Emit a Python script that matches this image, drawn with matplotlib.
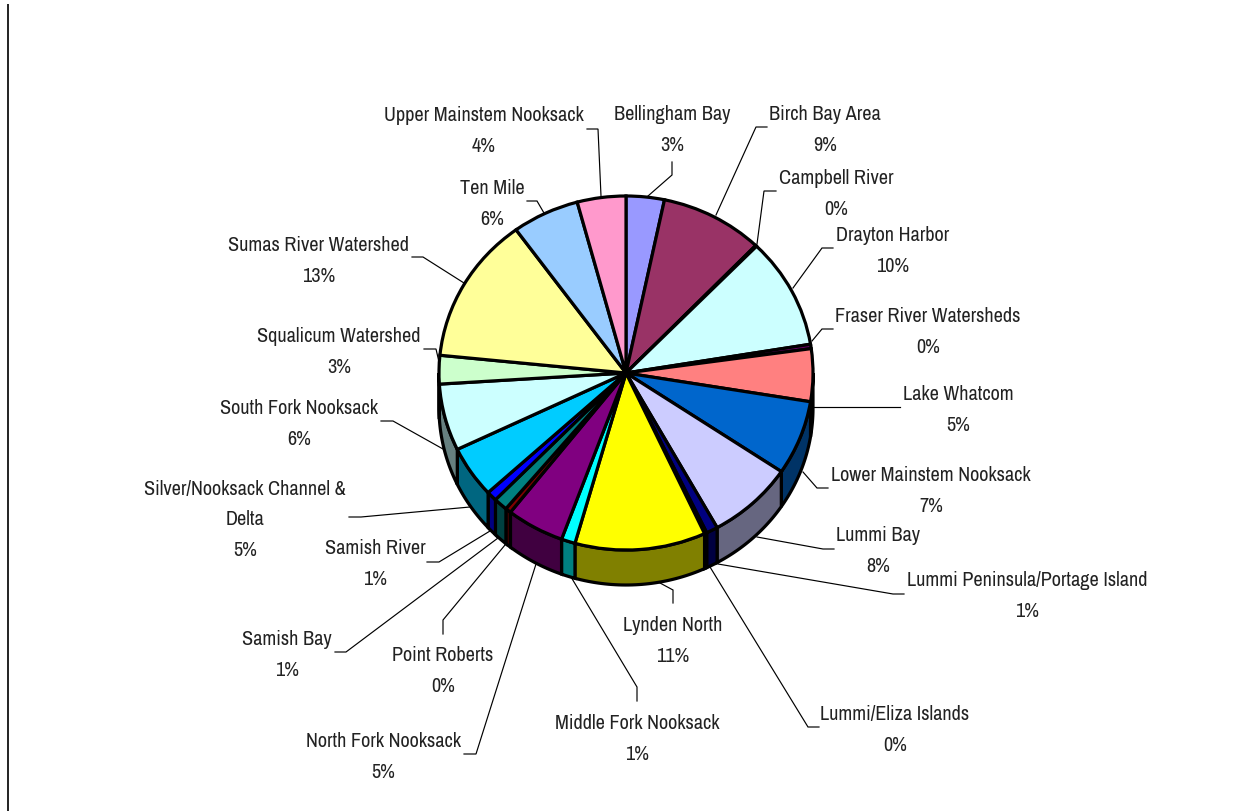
import numpy as np
import matplotlib
matplotlib.use("Agg")
import matplotlib.pyplot as plt
from matplotlib import font_manager as fm

# slices, clockwise from 12 o'clock
names = ["Bellingham Bay", "Birch Bay Area", "Campbell River", "Drayton Harbor",
         "Fraser River Watersheds", "Lake Whatcom", "Lower Mainstem Nooksack",
         "Lummi Bay", "Lummi Peninsula/Portage Island", "Lummi/Eliza Islands",
         "Lynden North", "Middle Fork Nooksack", "North Fork Nooksack",
         "Point Roberts", "Samish Bay", "Samish River",
         "Silver/Nooksack Channel &\nDelta", "South Fork Nooksack",
         "Squalicum Watershed", "Sumas River Watershed", "Ten Mile",
         "Upper Mainstem Nooksack"]
values = [3.3, 8.9, 0.1, 10.1, 0.4, 4.8, 6.8, 7.5, 1.0, 0.2, 11.3, 1.2, 5.0,
          0.5, 1.2, 0.9, 4.7, 6.1, 2.6, 13.4, 5.8, 4.2]
pct_labels = ["3%", "9%", "0%", "10%", "0%", "5%", "7%", "8%", "1%", "0%", "11%",
              "1%", "5%", "0%", "1%", "1%", "5%", "6%", "3%", "13%", "6%", "4%"]
colors = ["#9999FF", "#993366", "#FFFFCC", "#CCFFFF", "#660066", "#FF8080",
          "#0066CC", "#CCCCFF", "#000080", "#FF00FF", "#FFFF00", "#00FFFF",
          "#800080", "#800000", "#008080", "#0000FF", "#00CCFF", "#CCFFFF",
          "#CCFFCC", "#FFFF99", "#99CCFF", "#FF99CC"]

# label centre in pixels
label_x = [672, 825, 836, 893, 928, 958, 931, 878, 1027, 895, 673, 637, 383,
           443, 287, 375, 245, 299, 339, 319, 492, 484]
label_y = [130, 130, 194, 251, 332, 410, 491, 551, 596, 730, 641, 739, 757,
           671, 655, 564, 520, 424, 352, 261, 204, 131]

# leader lines in pixels
leaders = [
    [(648, 197), (672, 176), (672, 163)],
    [(716, 216), (756, 128), (767, 128)],
    [(757, 245), (764, 192), (776, 192)],
    [(793, 289), (822, 249), (833, 249)],
    [(812, 342), (822, 330), (833, 330)],
    [(814, 408), (900, 408)],
    [(803, 473), (817, 489), (828, 489)],
    [(757, 538), (823, 550), (834, 550)],
    [(718, 565), (893, 595), (904, 595)],
    [(710, 568), (808, 728), (819, 728)],
    [(660, 584), (673, 591), (673, 604)],
    [(571, 578), (637, 688), (637, 702)],
    [(536, 565), (476, 755), (464, 755)],
    [(505, 546), (443, 621), (443, 635)],
    [(498, 539), (346, 653), (335, 653)],
    [(490, 532), (439, 563), (427, 563)],
    [(470, 508), (361, 518), (349, 518)],
    [(443, 450), (393, 422), (381, 422)],
    [(439, 363), (436, 350), (424, 350)],
    [(464, 284), (423, 258), (412, 258)],
    [(544, 214), (537, 202), (527, 202)],
    [(601, 197), (598, 130), (587, 130)],
]

W, H = 1246, 812
cx, cy, rx, ry, depth = 626, 374, 187, 177, 35
outline = 2.3

# narrow face if there is one, otherwise a smaller Liberation Sans of the same width
installed = {f.name for f in fm.fontManager.ttflist}
if "Archivo Narrow" in installed:
    plt.rcParams["font.family"] = ["Archivo Narrow", "Liberation Sans"]
    label_size, line_gap = 14.6, 1.79
else:
    plt.rcParams["font.family"] = ["Liberation Sans", "DejaVu Sans"]
    label_size, line_gap = 12.2, 2.14

fig = plt.figure(figsize=(W / 100, H / 100), dpi=100)

# pixel axes for the text and leader lines
ax = fig.add_axes([0, 0, 1, 1])
ax.set_xlim(0, W)
ax.set_ylim(H, 0)
ax.axis("off")
ax.plot([7.5, 7.5], [5, H], color="#111111", lw=1.3, solid_capstyle="butt")
for pts in leaders:
    xs, ys = zip(*pts)
    ax.plot(xs, ys, color="black", lw=0.85, solid_joinstyle="miter")
for name, pct, x, y in zip(names, pct_labels, label_x, label_y):
    ax.text(x, y, name + "\n" + pct, ha="center", va="center", fontsize=label_size,
            color="#222222", linespacing=line_gap)

# pie axes: unit circle squashed to the ellipse
pax = fig.add_axes([0, 0, 1, 1], facecolor="none")
pax.pie(values, colors=colors, startangle=90, counterclock=False,
        wedgeprops=dict(edgecolor="black", linewidth=outline))
pax.set_aspect("auto")
pax.set_xlim(-cx / rx, (W - cx) / rx)
pax.set_ylim((cy - H) / ry, cy / ry)

# side wall of the lower half
d = depth / ry
edges = np.concatenate([[0], np.cumsum(values)]) / np.sum(values) * 360
for start, end, col in zip(edges[:-1], edges[1:], colors):
    t0, t1 = max(start, 90), min(end, 270)
    if t1 <= t0:
        continue
    t = np.radians(np.linspace(t0, t1, 40))
    xs = np.concatenate([np.sin(t), np.sin(t[::-1])])
    ys = np.concatenate([np.cos(t), np.cos(t[::-1]) - d])
    rgb = np.array(matplotlib.colors.to_rgb(col)) * 0.5
    pax.fill(xs, ys, facecolor=rgb, edgecolor="black", linewidth=outline, zorder=0.5)

fig.savefig("out.png", dpi=100)
